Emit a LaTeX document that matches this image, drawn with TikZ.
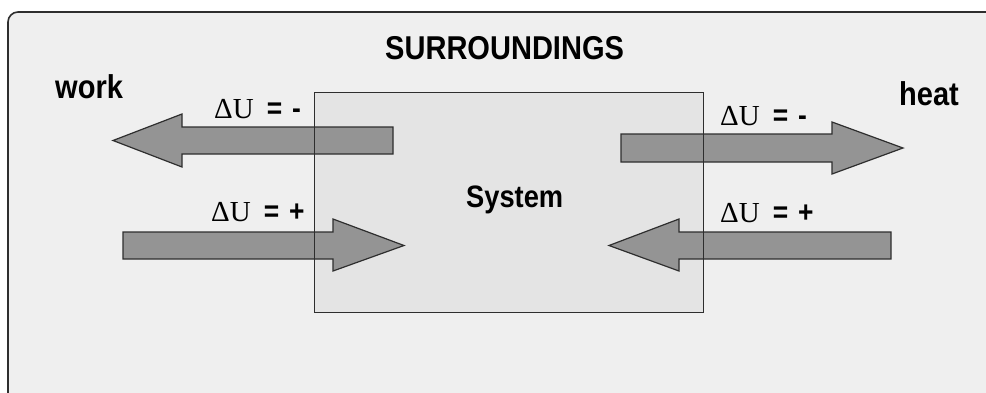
\documentclass[tikz,border=0pt]{standalone}
\usepackage{fontspec}
\newfontfamily\bsans[FakeStretch=0.88]{Liberation Sans}
\newfontfamily\lser{Liberation Serif}
\definecolor{bgc}{HTML}{EFEFEF}
\definecolor{sysc}{HTML}{E4E4E4}
\definecolor{arrc}{HTML}{949494}
\definecolor{linec}{HTML}{2E2E2E}
\tikzset{
  lbl/.style={inner sep=0pt, anchor=base west, text=black},
  bigtxt/.style={lbl, font=\bsans\bfseries\fontsize{33}{36}\selectfont},
  arrowshape/.style={fill=arrc, draw=linec, line width=1.2pt, line join=miter},
}
\newcommand{\dU}[1]{{\lser\fontsize{29}{32}\selectfont ΔU}\hspace{13pt}{\bsans\bfseries\fontsize{30}{32}\selectfont =}\hspace{10pt}{\bsans\bfseries\fontsize{30}{32}\selectfont #1}}
\begin{document}
\begin{tikzpicture}[x=1pt,y=-1pt]
\useasboundingbox (0,0) rectangle (986,392);
% surroundings
\draw[fill=bgc, draw=linec, line width=1.6pt, rounded corners=10pt] (8,12) rectangle (1010,420);
% system fill
\fill[sysc] (314,92) rectangle (703,312);
% arrows
\filldraw[arrowshape] (393,127) -- (182,127) -- (182,114) -- (113,140.5) -- (182,167) -- (182,154) -- (393,154) -- cycle;
\filldraw[arrowshape] (123,232) -- (333,232) -- (333,219) -- (404,245.5) -- (333,271) -- (333,259) -- (123,259) -- cycle;
\filldraw[arrowshape] (621,134) -- (832,134) -- (832,122) -- (903,148) -- (832,174) -- (832,162) -- (621,162) -- cycle;
\filldraw[arrowshape] (891,232) -- (679,232) -- (679,219) -- (609,245.5) -- (679,271) -- (679,259) -- (891,259) -- cycle;
% system border
\node[draw=linec, line width=1.2pt, minimum width=389pt, minimum height=220pt, inner sep=0pt, anchor=north west] (sys) at (314,92) {};
% texts
\node[bigtxt] (surr) at (385,59) {SURROUNDINGS};
\node[bigtxt, font=\bsans\bfseries\fontsize{31}{34}\selectfont] (systxt) at (466,207) {System};
\node[bigtxt] (work) at (55,98) {work};
\node[bigtxt] (heat) at (899,105) {heat};
\node[lbl] (l1) at (214,118) {\dU{-}};
\node[lbl] (l2) at (211,221) {\dU{+}};
\node[lbl] (l3) at (720,125) {\dU{-}};
\node[lbl] (l4) at (720,222) {\dU{+}};
\end{tikzpicture}
\end{document}
